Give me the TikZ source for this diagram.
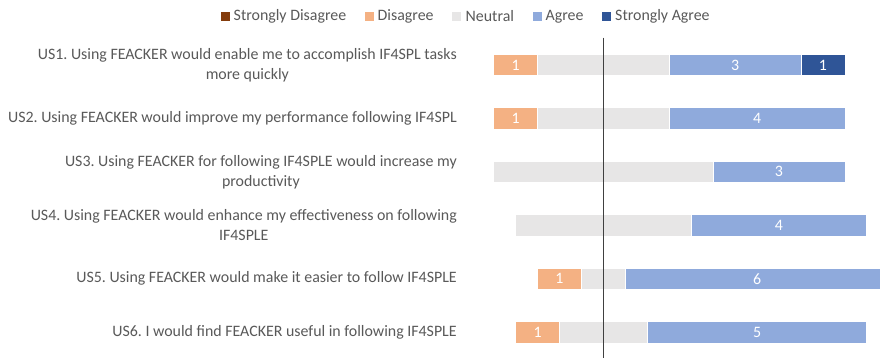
\documentclass[tikz,border=0pt]{standalone}
\usepackage{fontspec}
\setmainfont{Carlito}
\frenchspacing
\definecolor{csd}{HTML}{843C0C}
\definecolor{cdis}{HTML}{F4B183}
\definecolor{cneu}{HTML}{E7E6E6}
\definecolor{cagr}{HTML}{8FAADC}
\definecolor{csag}{HTML}{2F5597}
\definecolor{ctxt}{HTML}{595959}
\definecolor{caxis}{HTML}{404040}
\tikzset{
  lab/.style={anchor=east, align=center, text=ctxt, inner sep=0pt, font=\fontsize{15.9}{20}\selectfont},
  legtxt/.style={anchor=west, text=ctxt, inner sep=0pt, font=\fontsize{15.9}{19}\selectfont},
  val/.style={text=white, inner sep=0pt, font=\fontsize{15.9}{19}\selectfont},
  segbox/.style={draw=white, line width=0.7pt},
}
\begin{document}
\begin{tikzpicture}[x=1pt,y=-1pt]
\clip (0,0) rectangle (880,358);
\fill[white] (0,0) rectangle (880,358);
% legend
\fill[csd]  (221,12) rectangle (230,21);
\node[legtxt] (lsd) at (233.5,16.5) {Strongly Disagree};
\fill[cdis] (365,12) rectangle (374,21);
\node[legtxt] (ld) at (377.5,16.5) {Disagree};
\fill[cneu] (452,12) rectangle (461,21);
\node[legtxt] (ln) at (465.5,16.5) {Neutral};
\fill[cagr] (533,12) rectangle (542,21);
\node[legtxt] (la) at (545.5,16.5) {Agree};
\fill[csag] (602,12) rectangle (611,21);
\node[legtxt] (lsa) at (615,16.5) {Strongly Agree};
% category labels
\node[lab] (q1) at (457,65) {US1. Using FEACKER would enable me to accomplish IF4SPL tasks\\more quickly};
\node[lab] (q2) at (457,118.2) {US2. Using FEACKER would improve my performance following IF4SPL};
\node[lab] (q3) at (457,171.8) {US3. Using FEACKER for following IF4SPLE would increase my\\productivity};
\node[lab] (q4) at (457,225.3) {US4. Using FEACKER would enhance my effectiveness on following\\IF4SPLE};
\node[lab] (q5) at (457,278.8) {US5. Using FEACKER would make it easier to follow IF4SPLE};
\node[lab] (q6) at (457,332.3) {US6. I would find FEACKER useful in following IF4SPLE};
% bars
\foreach \r/\yy/\vsd/\vdi/\vne/\vag/\vsa in {1/65/0/1/3/3/1, 2/118.2/0/1/3/4/0, 3/171.8/0/0/5/3/0, 4/225.3/0/0/4/4/0, 5/278.8/0/1/1/6/0, 6/332.3/0/1/2/5/0} {
  \pgfmathsetmacro\xa{603.4-(\vsd+\vdi+\vne/2)*43.9}
  \pgfmathsetmacro\xb{\xa+\vsd*43.9}
  \pgfmathsetmacro\xc{\xb+\vdi*43.9}
  \pgfmathsetmacro\xd{\xc+\vne*43.9}
  \pgfmathsetmacro\xe{\xd+\vag*43.9}
  \pgfmathsetmacro\xf{\xe+\vsa*43.9}
  \ifnum\vsd>0
    \fill[csd,segbox] (\xa,\yy-10.8) rectangle (\xb,\yy+10.8);
    \node[val] (sd\r) at ({(\xa+\xb)/2},\yy) {\vsd};
  \fi
  \ifnum\vdi>0
    \fill[cdis,segbox] (\xb,\yy-10.8) rectangle (\xc,\yy+10.8);
    \node[val] (d\r) at ({(\xb+\xc)/2},\yy) {\vdi};
  \fi
  \ifnum\vne>0
    \fill[cneu,segbox] (\xc,\yy-10.8) rectangle (\xd,\yy+10.8);
  \fi
  \ifnum\vag>0
    \fill[cagr,segbox] (\xd,\yy-10.8) rectangle (\xe,\yy+10.8);
    \node[val] (a\r) at ({(\xd+\xe)/2},\yy) {\vag};
  \fi
  \ifnum\vsa>0
    \fill[csag,segbox] (\xe,\yy-10.8) rectangle (\xf,\yy+10.8);
    \node[val] (s\r) at ({(\xe+\xf)/2},\yy) {\vsa};
  \fi
}
% zero line
\coordinate (ztop) at (603.3,37.7);
\coordinate (zbot) at (603.3,358);
\draw[caxis, line width=1.1pt] (ztop) -- (zbot);
\end{tikzpicture}
\end{document}
